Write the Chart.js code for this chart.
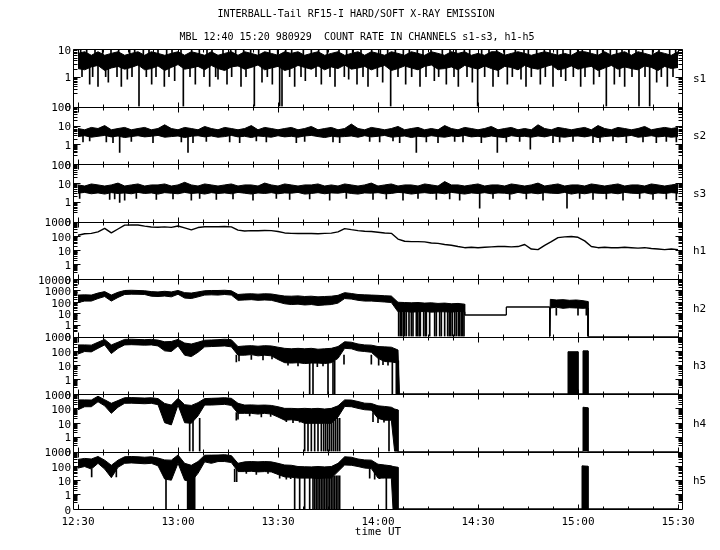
<!DOCTYPE html>
<html lang="en">
<head>
<meta charset="UTF-8">
<title>INTERBALL-Tail RF15-I hard/soft X-ray emission</title>
<script src="https://cdn.jsdelivr.net/npm/chart.js@4.4.1/dist/chart.umd.min.js"></script>
<style>
  body { margin: 0; background: #fff; }
  #wrap { width: 720px; height: 550px; }
</style>
</head>
<body>
<div id="wrap"><canvas id="xray" width="720" height="550"></canvas></div>
<script>
// time in minutes after 12:30 UT
const tickTimes = [0, 30, 60, 90, 120, 150, 180];
const timeLabels = ['12:30', '13:00', '13:30', '14:00', '14:30', '15:00', '15:30'];

const panelNames = ['s1', 's2', 's3', 'h1', 'h2', 'h3', 'h4', 'h5'];
const panelTops = [10, 100, 100, 1000, 10000, 1000, 1000, 1000];

const tGrid = [
  0, 2, 4, 6, 8, 10, 12, 14, 16, 18,
  20, 22, 24, 26, 28, 30, 32, 34, 36, 38,
  40, 42, 44, 46, 48, 50, 52, 54, 56, 58,
  60, 62, 64, 66, 68, 70, 72, 74, 76, 78,
  80, 82, 84, 86, 88, 90, 92, 94, 96, 98,
  100, 102, 104, 106, 108, 110, 112, 114, 116, 118,
  120, 122, 124, 126, 128, 130, 132, 134, 136, 138,
  140, 142, 144, 146, 148, 150, 152, 154, 156, 158,
  160, 162, 164, 166, 168, 170, 172, 174, 176, 178,
  180
];

// soft channels: upper / lower edge of the noise band, drop-outs and spikes
const s1Hi = [
  7, 8, 6, 8, 6, 7, 8, 6, 7, 8,
  6, 8, 7, 6, 7, 8, 6, 8, 7, 6,
  8, 6, 7, 8, 6, 8, 7, 6, 8, 7,
  6, 8, 7, 8, 6, 7, 8, 6, 7, 8,
  6, 7, 8, 6, 8, 7, 6, 8, 7, 6,
  8, 7, 6, 8, 7, 6, 8, 7, 8, 6,
  7, 6, 8, 8, 6, 7, 8, 7, 6, 7,
  8, 7, 6, 7, 6, 8, 8, 7, 6, 8,
  6, 7, 8, 6, 8, 7, 6, 8, 7, 6,
  8
];
const s1Lo = [
  2.0, 1.8, 2.3, 2.6, 1.7, 2.1, 2.4, 1.9, 2.2, 2.7,
  1.8, 2.0, 2.5, 1.7, 2.2, 2.8, 1.9, 2.1, 2.4, 1.8,
  2.6, 2.0, 1.7, 2.3, 2.5, 1.9, 2.2, 2.7, 1.8, 2.1,
  2.4, 1.7, 2.0, 2.6, 2.2, 1.9, 2.5, 1.8, 2.3, 2.0,
  2.7, 1.9, 2.1, 2.4, 1.8, 2.2, 2.6, 1.7, 2.0, 2.5,
  2.1, 1.8, 2.4, 2.7, 1.9, 2.0, 2.3, 1.8, 2.6, 2.2,
  1.9, 2.5, 2.0, 1.7, 2.4, 2.2, 1.8, 2.6, 2.1, 1.9,
  2.3, 2.7, 1.8, 2.0, 2.5, 1.9, 2.2, 2.4, 1.7, 2.1,
  2.6, 1.9, 2.3, 2.0, 1.8, 2.5, 2.2, 1.7, 2.4, 2.0,
  2.2
];
const s1DipT = [
  1.2, 3.5, 4.4, 6.0, 8.3, 9.1, 11.7, 13.0, 14.8, 16.2,
  18.3, 20.5, 22.1, 23.4, 25.9, 27.3, 29.0, 31.6, 33.6, 35.2,
  37.8, 39.5, 41.3, 42.0, 44.7, 46.1, 48.9, 50.4, 52.9, 55.2,
  56.8, 58.3, 60.5, 61.2, 63.5, 65.0, 66.9, 68.2, 71.4, 73.0,
  75.6, 77.1, 79.9, 81.2, 83.7, 85.5, 87.0, 89.8, 91.4, 93.8,
  96.0, 98.3, 100.1, 102.6, 104.4, 106.9, 108.2, 110.5, 112.8, 114.1,
  116.7, 118.3, 119.9, 122.0, 124.5, 126.1, 128.8, 130.3, 132.9, 134.4,
  136.0, 138.7, 140.2, 142.5, 144.9, 146.3, 148.6, 150.8, 152.1, 154.7,
  156.4, 158.5, 160.9, 162.5, 164.0, 166.2, 168.3, 170.1, 171.5, 173.6,
  175.0, 176.8, 178.5
];
const s1DipV = [
  1, 0.5, 1, 0.4, 1, 0.6, 1, 0.4, 0.8, 1,
  0, 1, 0.5, 1, 0.4, 1, 0.7, 0, 1, 0.5,
  1, 0.4, 1, 0.8, 0.5, 1, 0.4, 1, 0, 0.6,
  1, 0.5, 0, 0, 1, 0.4, 1, 0.7, 1, 0.5,
  1, 0.4, 1, 0.8, 0.5, 1, 0.4, 1, 0.6, 0,
  1, 0.5, 1, 0.4, 1, 0.7, 1, 0.5, 1, 0.4,
  1, 0.6, 0, 1, 0.4, 1, 0.5, 1, 0.8, 0.4,
  1, 0.5, 1, 0.4, 1, 0.7, 1, 0.4, 1, 0.5,
  1, 0, 0.5, 1, 0.4, 1, 0, 1, 0, 0.6,
  1, 0.4, 1
];
const s1UpT = [
  0.8, 2.6, 5.1, 7.4, 9.9, 12.2, 15.5, 17.0, 19.6, 21.3,
  24.0, 26.6, 28.2, 30.9, 34.1, 36.4, 38.7, 40.2, 43.5, 45.8,
  47.3, 49.7, 51.8, 54.2, 57.5, 59.9, 62.3, 64.1, 67.6, 70.0,
  72.2, 74.8, 78.3, 80.6, 82.4, 84.9, 88.1, 90.7, 92.9, 95.2,
  97.6, 99.4, 101.8, 103.5, 105.9, 109.3, 111.6, 113.4, 115.9, 117.5,
  121.1, 123.3, 125.6, 127.9, 131.2, 133.8, 135.1, 137.6, 139.9, 141.6,
  143.8, 145.5, 147.7, 149.9, 151.3, 153.6, 155.8, 157.4, 159.7, 161.6,
  163.2, 165.3, 167.4, 169.4, 172.4, 174.3, 177.5, 179.3
];
const s1UpV = [
  10, 9, 10, 10, 9, 10, 10, 9, 10, 10,
  9, 10, 10, 9, 10, 10, 9, 10, 10, 9,
  10, 10, 9, 10, 10, 9, 10, 10, 9, 10,
  10, 9, 10, 10, 9, 10, 10, 9, 10, 10,
  9, 10, 10, 9, 10, 10, 9, 10, 10, 9,
  10, 10, 9, 10, 10, 9, 10, 10, 9, 10,
  10, 9, 10, 10, 9, 10, 10, 9, 10, 10,
  9, 10, 10, 9, 10, 10, 9, 10
];

const s2Hi = [
  7, 6, 8, 7, 10, 6, 7, 8, 6, 7,
  8, 6, 7, 11, 7, 6, 8, 7, 6, 9,
  7, 6, 8, 7, 6, 7, 10, 6, 8, 7,
  6, 7, 8, 6, 7, 9, 6, 7, 8, 6,
  7, 12, 7, 6, 8, 7, 6, 7, 9, 6,
  7, 8, 6, 7, 6, 10, 7, 6, 8, 7,
  6, 7, 9, 6, 7, 8, 6, 7, 6, 11,
  7, 6, 8, 7, 6, 7, 8, 6, 10, 7,
  6, 8, 7, 6, 7, 9, 6, 7, 8, 7,
  8
];
const s2Lo = [
  2.6, 2.9, 2.4, 2.7, 3.0, 2.5, 2.8, 2.3, 2.6, 2.9,
  2.5, 2.7, 3.0, 2.4, 2.6, 2.8, 2.3, 2.7, 2.9, 2.5,
  2.8, 2.4, 2.6, 3.0, 2.5, 2.7, 2.3, 2.8, 2.6, 2.4,
  2.9, 2.5, 2.7, 2.4, 2.8, 3.0, 2.6, 2.3, 2.7, 2.5,
  2.6, 2.8, 2.4, 2.9, 2.5, 2.7, 3.0, 2.4, 2.6, 2.8,
  2.3, 2.7, 2.5, 2.9, 2.6, 2.4, 2.8, 2.6, 3.0, 2.5,
  2.7, 2.4, 2.8, 2.5, 2.3, 2.9, 2.6, 2.7, 2.4, 2.8,
  2.5, 3.0, 2.6, 2.4, 2.7, 2.8, 2.5, 2.9, 2.3, 2.6,
  2.8, 2.5, 2.7, 3.0, 2.4, 2.6, 2.9, 2.5, 2.7, 2.4,
  2.6
];
const s2DipT = [
  1.5, 3.5, 8.5, 10.5, 12.5, 16.0, 22.5, 31.0, 33.0, 34.5,
  38.5, 45.5, 48.5, 53.5, 56.5, 65.5, 68.0, 76.5, 78.5, 87.5,
  90.5, 94.5, 96.5, 101.5, 104.5, 108.0, 113.0, 115.5, 121.0, 125.8,
  128.5, 132.5, 135.7, 142.5, 144.5, 148.5, 154.5, 156.6, 160.5, 164.5,
  169.5, 173.5, 176.5, 179.5
];
const s2DipV = [
  1.3, 1.5, 1.3, 1.2, 0.3, 1.4, 1.2, 1.3, 0.3, 1.2,
  1.4, 1.3, 1.2, 1.5, 1.3, 1.2, 1.4, 1.3, 1.2, 1.4,
  1.3, 1.5, 1.2, 0.3, 1.3, 1.2, 1.4, 1.3, 1.2, 0.3,
  1.3, 1.4, 0.5, 1.2, 1.3, 1.4, 1.2, 1.3, 1.5, 1.2,
  1.3, 1.2, 1.4, 1.3
];

const s3Hi = [
  8, 7, 9, 8, 7, 8, 10, 7, 8, 9,
  7, 8, 8, 9, 7, 8, 11, 8, 7, 9,
  8, 7, 8, 9, 7, 8, 8, 7, 10, 8,
  7, 9, 8, 7, 8, 8, 9, 7, 8, 7,
  9, 8, 7, 8, 10, 7, 8, 9, 7, 8,
  8, 7, 9, 8, 7, 12, 8, 8, 7, 8,
  9, 7, 8, 8, 7, 9, 8, 7, 8, 10,
  7, 8, 9, 7, 8, 8, 7, 9, 8, 7,
  8, 9, 7, 8, 8, 7, 9, 8, 7, 8,
  9
];
const s3Lo = [
  2.9, 3.2, 2.7, 3.0, 2.6, 3.1, 2.8, 3.0, 2.7, 3.2,
  2.8, 3.0, 2.6, 3.1, 2.9, 2.7, 3.2, 2.8, 3.0, 2.6,
  3.1, 2.8, 3.0, 2.7, 3.2, 2.9, 2.6, 3.0, 2.8, 3.1,
  2.7, 3.0, 2.9, 3.2, 2.6, 2.8, 3.1, 2.7, 3.0, 2.9,
  3.2, 2.8, 2.6, 3.0, 2.9, 3.1, 2.7, 2.8, 3.2, 3.0,
  2.6, 2.9, 3.1, 2.8, 3.0, 2.7, 3.2, 2.9, 2.6, 3.0,
  2.8, 3.1, 2.7, 3.0, 2.9, 2.6, 3.2, 2.8, 3.0, 2.7,
  3.1, 2.9, 2.8, 3.2, 2.6, 3.0, 2.7, 3.1, 2.9, 2.8,
  3.0, 2.7, 3.2, 2.9, 2.8, 3.1, 2.6, 3.0, 2.8, 3.1,
  2.9
];
const s3DipT = [
  0.5, 9.5, 11.0, 12.5, 14.0, 17.5, 23.5, 28.5, 34.0, 36.5,
  41.5, 46.5, 52.5, 59.5, 63.5, 69.5, 75.5, 80.5, 88.5, 92.5,
  97.5, 102.0, 107.5, 111.5, 114.5, 120.5, 124.5, 129.5, 134.5, 139.5,
  146.7, 150.5, 154.5, 158.5, 163.5, 168.5, 172.5, 176.5, 179.5
];
const s3DipV = [
  1.5, 1.3, 1.4, 0.9, 1.2, 1.5, 1.3, 1.4, 1.2, 1.5,
  1.3, 1.4, 1.2, 1.5, 1.3, 1.4, 1.2, 1.5, 1.3, 1.4,
  1.2, 1.5, 1.3, 1.4, 1.2, 0.4, 1.5, 1.3, 1.4, 1.2,
  0.4, 1.5, 1.3, 1.4, 1.2, 1.5, 1.3, 1.4, 1.2
];

// h1 is a single trace
const h1Val = [
  110, 140, 150, 190, 330, 160, 300, 560, 580, 570,
  480, 410, 400, 420, 390, 490, 360, 260, 380, 430,
  440, 430, 450, 420, 250, 220, 230, 225, 235, 230,
  200, 160, 150, 145, 150, 145, 140, 150, 155, 190,
  320, 270, 230, 210, 200, 180, 160, 150, 60, 42,
  40, 40, 38, 32, 30, 25, 22, 18, 15, 16,
  15, 16, 17, 18, 18, 17, 18, 25, 12, 11,
  22, 40, 75, 85, 90, 80, 45, 18, 15, 16,
  15, 15, 16, 15, 14, 15, 13, 12, 11, 12,
  11
];

const h2T = [
  0, 2, 4, 6, 8, 10, 12, 14, 16, 18,
  20, 22, 24, 26, 28, 30, 32, 34, 36, 38,
  40, 42, 44, 46, 48, 50, 52, 54, 56, 58,
  60, 62, 64, 66, 68, 70, 72, 74, 76, 78,
  80, 82, 84, 86, 88, 90, 92, 94, 96, 98,
  100, 102, 104, 106, 108, 110, 112, 114, 116, 116,
  128.5, 128.5, 141.5, 141.5, 141.7, 143.5, 145.5, 147.5, 149.5, 151.5,
  153.0, 153.0, 180
];
const h2Hi = [
  400, 420, 400, 600, 800, 400, 700, 1000, 1050, 1000,
  950, 800, 750, 850, 750, 1000, 650, 600, 750, 950,
  1000, 1000, 1050, 950, 450, 500, 520, 480, 520, 500,
  400, 330, 320, 340, 300, 320, 280, 300, 320, 380,
  650, 550, 450, 420, 400, 380, 350, 330, 95, 90,
  85, 90, 80, 85, 75, 80, 70, 75, 65, 7.3,
  7.3, 36.7, 36.7, 0, 170, 150, 160, 140, 150, 130,
  110, 0, 0
];
const h2Lo = [
  90, 120, 120, 200, 300, 120, 250, 450, 480, 470,
  450, 320, 300, 330, 280, 470, 220, 200, 280, 400,
  420, 400, 450, 400, 140, 150, 160, 140, 150, 140,
  100, 70, 60, 65, 55, 60, 50, 55, 60, 80,
  200, 180, 140, 120, 120, 110, 100, 90, 14, 15,
  13, 14, 15, 13, 14, 14, 13, 15, 14, 7.3,
  7.3, 36.7, 36.7, 0, 30, 35, 28, 32, 30, 28,
  30, 0, 0
];
const h2DipT = [
  96.2, 96.7, 97.1, 97.6, 98.0, 98.5, 99.3, 100.0, 100.5, 101.5,
  101.9, 102.4, 102.7, 103.7, 104.2, 104.5, 105.5, 107.0, 107.5, 108.5,
  109.0, 110.0, 110.9, 111.4, 111.8, 112.3, 113.0, 113.5, 114.1, 114.5,
  115.0, 115.4, 115.8, 143.5, 150.0, 152.5
];
const h2DipV = [
  0, 0, 0, 0, 0, 0, 0, 0, 0, 0,
  0, 0, 0, 0, 0, 0, 0, 0, 0, 0,
  0, 0, 0, 0, 0, 0, 0, 0, 0, 0,
  0, 0, 0, 7, 7, 7
];

const h3T = [
  0, 2, 4, 6, 8, 10, 12, 14, 16, 18,
  20, 22, 24, 26, 28, 30, 32, 34, 36, 38,
  40, 42, 44, 46, 48, 50, 52, 54, 56, 58,
  60, 62, 64, 66, 68, 70, 72, 74, 76, 78,
  80, 82, 84, 86, 88, 90, 92, 94, 96, 96.4,
  147.0, 147.0, 150.0, 150.0, 151.5, 151.5, 153.0, 153.0, 180
];
const h3Hi = [
  260, 260, 250, 400, 630, 260, 400, 630, 650, 620,
  600, 630, 560, 430, 450, 630, 350, 300, 400, 550,
  570, 600, 650, 600, 200, 220, 230, 210, 230, 220,
  180, 150, 140, 150, 140, 150, 130, 140, 150, 200,
  430, 400, 300, 260, 250, 200, 190, 180, 115, 0,
  0, 87, 87, 0, 0, 100, 100, 0, 0
];
const h3Lo = [
  60, 90, 85, 150, 260, 65, 150, 260, 270, 260,
  250, 260, 220, 100, 90, 220, 50, 40, 80, 190,
  200, 210, 220, 190, 50, 50, 55, 45, 50, 45,
  25, 15, 14, 15, 13, 14, 14, 13, 15, 30,
  150, 140, 100, 90, 80, 30, 18, 17, 14, 0,
  0, 0, 0, 0, 0, 0, 0, 0, 0
];
const h3DipT = [69.5, 70.5, 75.0, 76.5, 77.0, 94.3, 95.5, 95.8, 96.1];
const h3DipV = [0, 0, 0, 0, 0, 0, 0, 0, 0];
const h3HairT = [47.5, 48.3, 52.0, 55.5, 58.2, 63.0, 66.0, 71.8, 73.5, 79.8, 88.0, 90.2, 91.5, 93.0];
const h3HairV = [17, 20, 25, 23, 28, 10, 9, 8, 9, 12, 12, 10, 11, 10];

const h4T = [
  0, 2, 4, 6, 8, 10, 12, 14, 16, 18,
  20, 22, 24, 26, 28, 30, 32, 34, 36, 38,
  40, 42, 44, 46, 48, 50, 52, 54, 56, 58,
  60, 62, 64, 66, 68, 70, 72, 74, 76, 78,
  80, 82, 84, 86, 88, 90, 92, 94, 95, 96,
  96, 151.5, 151.5, 153.0, 153.0, 180
];
const h4Hi = [
  390, 390, 380, 700, 400, 225, 350, 550, 560, 540,
  520, 550, 480, 220, 170, 500, 180, 160, 250, 480,
  500, 520, 550, 500, 225, 170, 175, 165, 170, 160,
  130, 100, 100, 95, 100, 95, 100, 90, 100, 150,
  390, 380, 300, 230, 220, 150, 136, 120, 90, 78,
  0, 0, 120, 110, 0, 0
];
const h4Lo = [
  80, 130, 130, 290, 150, 45, 120, 225, 230, 220,
  210, 225, 180, 10, 7, 170, 10, 9, 30, 170,
  170, 180, 190, 160, 45, 45, 45, 40, 45, 40,
  25, 15, 16, 14, 9, 9, 9, 9, 9, 25,
  136, 130, 100, 80, 75, 20, 15, 15, 0, 0,
  0, 0, 0, 0, 0, 0
];
const h4DipT = [
  33.5, 34.5, 36.5, 68.0, 69.0, 70.0, 71.0, 72.0, 73.0, 73.7,
  74.3, 74.9, 75.5, 76.1, 76.7, 77.3, 77.9, 78.5, 93.3
];
const h4DipV = [0, 0, 0, 0, 0, 0, 0, 0, 0, 0, 0, 0, 0, 0, 0, 0, 0, 0, 0];
const h4HairT = [47.5, 48.0, 51.5, 55.0, 57.8, 62.5, 64.5, 66.5, 88.5, 90.0, 91.8];
const h4HairV = [15, 18, 30, 25, 28, 12, 10, 11, 12, 10, 11];

const h5T = [
  0, 2, 4, 6, 8, 10, 12, 14, 16, 18,
  20, 22, 24, 26, 28, 30, 32, 34, 36, 38,
  40, 42, 44, 46, 48, 50, 52, 54, 56, 58,
  60, 62, 64, 66, 68, 70, 72, 74, 76, 78,
  80, 82, 84, 86, 88, 90, 92, 94, 94.5, 96,
  96, 151.2, 151.2, 153.0, 153.0, 180
];
const h5Hi = [
  280, 330, 300, 450, 250, 110, 250, 430, 450, 430,
  400, 430, 350, 260, 250, 570, 150, 110, 200, 550,
  560, 570, 600, 520, 150, 190, 200, 190, 200, 190,
  150, 115, 110, 90, 87, 85, 90, 85, 90, 150,
  430, 400, 300, 260, 250, 130, 115, 100, 90, 80,
  0, 0, 100, 95, 0, 0
];
const h5Lo = [
  70, 90, 60, 150, 60, 15, 80, 150, 160, 150,
  140, 150, 100, 12, 10, 150, 10, 8, 30, 190,
  150, 200, 200, 170, 40, 40, 42, 38, 40, 38,
  25, 17, 16, 14, 14, 14, 13, 14, 14, 40,
  115, 110, 90, 70, 65, 14, 14, 14, 0, 0,
  0, 0, 0, 0, 0, 0
];
const h5DipT = [
  26.4, 32.9, 33.2, 33.5, 33.8, 34.1, 34.4, 34.7, 35.0, 65.0,
  66.5, 68.0, 69.5, 70.5, 71.0, 71.5, 72.0, 72.5, 73.0, 73.5,
  74.0, 74.5, 75.0, 75.5, 76.0, 76.5, 77.0, 77.5, 78.0, 78.5,
  92.5
];
const h5DipV = [
  0, 0, 0, 0, 0, 0, 0, 0, 0, 0,
  0, 0, 0, 0, 0, 0, 0, 0, 0, 0,
  0, 0, 0, 0, 0, 0, 0, 0, 0, 0,
  0
];
const h5HairT = [4.1, 11.5, 47.0, 47.6, 50.5, 53.5, 57.0, 60.5, 62.5, 63.8, 87.5, 89.0, 90.5];
const h5HairV = [17, 17, 8, 8, 30, 25, 30, 14, 12, 13, 14, 12, 13];

const FONT = '"DejaVu Sans Mono", monospace';

// axis is log10(count + 0.1), so 0 sits one decade under 1
const tr = v => Math.log10(v + 0.1);
const pts = (ts, vs) => ts.map((t, i) => ({ x: t, y: tr(vs[i]) }));

// each bar set: single-sample excursions drawn from a level inside the band
const series = {
  s1: { t: tGrid, hi: s1Hi, lo: s1Lo, bars: [
    { t: s1DipT, v: s1DipV, from: 3 }, { t: s1UpT, v: s1UpV, from: 5 }] },
  s2: { t: tGrid, hi: s2Hi, lo: s2Lo, bars: [{ t: s2DipT, v: s2DipV, from: 3 }] },
  s3: { t: tGrid, hi: s3Hi, lo: s3Lo, bars: [{ t: s3DipT, v: s3DipV, from: 3.5 }] },
  h1: { t: tGrid, line: h1Val },
  h2: { t: h2T, hi: h2Hi, lo: h2Lo, bars: [{ t: h2DipT, v: h2DipV, from: 30 }] },
  h3: { t: h3T, hi: h3Hi, lo: h3Lo, bars: [
    { t: h3DipT, v: h3DipV, from: 20 }, { t: h3HairT, v: h3HairV, from: 50 }] },
  h4: { t: h4T, hi: h4Hi, lo: h4Lo, bars: [
    { t: h4DipT, v: h4DipV, from: 20 }, { t: h4HairT, v: h4HairV, from: 50 }] },
  h5: { t: h5T, hi: h5Hi, lo: h5Lo, bars: [
    { t: h5DipT, v: h5DipV, from: 20 }, { t: h5HairT, v: h5HairV, from: 60 }] }
};

const lineStyle = {
  type: 'line', borderColor: '#000', borderWidth: 1, pointRadius: 0,
  tension: 0, borderJoinStyle: 'bevel'
};

const datasets = [];
panelNames.forEach(name => {
  const s = series[name];
  const yAxisID = 'y_' + name;
  if (s.line) {
    datasets.push({ ...lineStyle, yAxisID, data: pts(s.t, s.line), borderWidth: 1.4, fill: false });
    return;
  }
  datasets.push({ ...lineStyle, yAxisID, data: pts(s.t, s.hi), fill: false });
  datasets.push({ ...lineStyle, yAxisID, data: pts(s.t, s.lo), fill: '-1', backgroundColor: '#000' });
  s.bars.forEach(b => {
    datasets.push({
      type: 'bar', yAxisID, grouped: false, barThickness: 1, backgroundColor: '#000', borderWidth: 0,
      data: b.t.map((t, j) => ({ x: t, y: [tr(b.v[j]), tr(b.from)] }))
    });
  });
});

const tickFont = { family: FONT, size: 11 };

const scales = {
  x: {
    type: 'linear', position: 'bottom', min: -1.5, max: 181.5, offset: false,
    grid: { display: false, drawTicks: false }, border: { display: false },
    afterBuildTicks: sc => { sc.ticks = tickTimes.map(v => ({ value: v })); },
    ticks: {
      autoSkip: false, maxRotation: 0, color: '#000', font: tickFont, padding: 7,
      callback: v => timeLabels[tickTimes.indexOf(v)]
    },
    title: { display: true, text: 'time UT', color: '#000', font: tickFont, padding: { top: 0, bottom: 11 } },
    afterFit: sc => { sc.height = 41; }
  }
};

panelNames.forEach((name, i) => {
  const decades = [0, 1, 10, 100, 1000, 10000].filter(v => v <= panelTops[i]);
  scales['y_' + name] = {
    type: 'linear', position: 'left', stack: 'panels', stackWeight: 1,
    weight: panelNames.length - i,
    min: tr(0), max: tr(panelTops[i]),
    grid: { display: false, drawTicks: false }, border: { display: false },
    afterBuildTicks: sc => { sc.ticks = decades.map(v => ({ value: tr(v) })); },
    ticks: {
      autoSkip: false, color: '#000', font: tickFont, padding: 2, labelOffset: 2,
      callback: v => String(Math.round(Math.pow(10, v) - 0.1))
    },
    afterFit: sc => { sc.width = 73; }
  };
});

// frames, inward ticks, panel names and the two title lines
const panelFrame = {
  id: 'panelFrame',
  afterDatasetsDraw(chart) {
    const ctx = chart.ctx;
    const xs = chart.scales.x;
    const area = chart.chartArea;
    const L = Math.round(area.left) + 0.5;
    const R = Math.round(area.right) - 0.5;
    ctx.save();
    ctx.strokeStyle = '#000';
    ctx.lineWidth = 1;
    ctx.beginPath();
    panelNames.forEach((name, i) => {
      const sc = chart.scales['y_' + name];
      const T = Math.round(sc.top) + 0.5;
      const B = Math.round(sc.bottom) + 0.5;
      ctx.rect(L, T, R - L, B - T);
      for (let m = 0; m <= 180; m += 7.5) {
        const px = Math.round(xs.getPixelForValue(m)) + 0.5;
        const len = m % 30 === 0 ? 5 : 3;
        ctx.moveTo(px, T); ctx.lineTo(px, T + len);
        ctx.moveTo(px, B); ctx.lineTo(px, B - len);
      }
      const topExp = Math.round(Math.log10(panelTops[i]));
      for (let e = -1; e <= topExp; e++) {
        for (let k = 1; k <= 9; k++) {
          const v = k * Math.pow(10, e);
          if (v > panelTops[i] * 1.0001 || (e === -1 && k === 1)) continue;
          const py = Math.round(sc.getPixelForValue(tr(v))) + 0.5;
          const len = k === 1 ? 7 : 4;
          ctx.moveTo(L, py); ctx.lineTo(L + len, py);
          ctx.moveTo(R, py); ctx.lineTo(R - len, py);
        }
      }
    });
    ctx.stroke();

    ctx.fillStyle = '#000';
    ctx.textBaseline = 'middle';
    ctx.font = '11px ' + FONT;
    ctx.textAlign = 'left';
    panelNames.forEach(name => {
      const sc = chart.scales['y_' + name];
      ctx.fillText(name, 693, (sc.top + sc.bottom) / 2 + 1);
    });
    ctx.font = '10px ' + FONT;
    ctx.textAlign = 'center';
    ctx.fillText('INTERBALL-Tail RF15-I HARD/SOFT X-RAY EMISSION', 356, 14);
    ctx.fillText('MBL 12:40 15:20 980929  COUNT RATE IN CHANNELS s1-s3, h1-h5', 357, 37);
    ctx.restore();
  }
};

new Chart(document.getElementById('xray'), {
  type: 'line',
  data: { datasets },
  options: {
    responsive: false,
    animation: false,
    events: [],
    layout: { padding: { top: 49, left: 0, right: 37, bottom: 0 } },
    plugins: { legend: { display: false }, tooltip: { enabled: false }, title: { display: false } },
    scales
  },
  plugins: [panelFrame]
});
</script>
</body>
</html>
